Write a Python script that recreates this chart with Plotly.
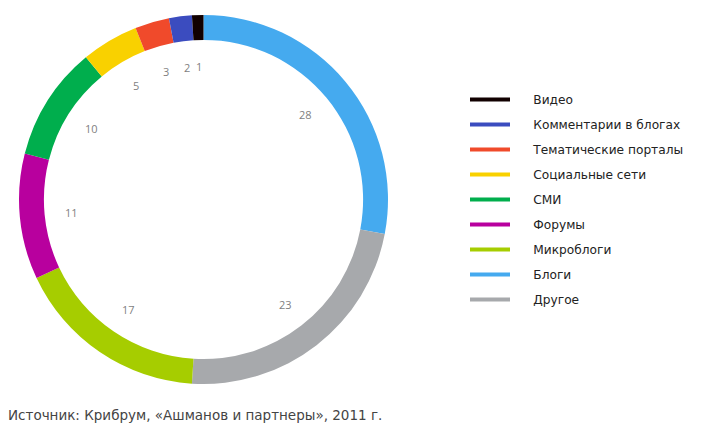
import numpy as np
import plotly.graph_objects as go

# Data (clockwise from top)
categories = ["Блоги", "Другое", "Микроблоги", "Форумы", "СМИ", "Социальные сети",
              "Тематические порталы", "Комментарии в блогах", "Видео"]
values = [28, 23, 17, 11, 10, 5, 3, 2, 1]
colors = ["#45aaef", "#a7a9ac", "#a6cd00", "#b8009e", "#00ae4d", "#f9d100",
          "#f04a2b", "#3b4cbf", "#110000"]
legend_order = ["Видео", "Комментарии в блогах", "Тематические порталы", "Социальные сети",
                "СМИ", "Форумы", "Микроблоги", "Блоги", "Другое"]
source_text = "Источник: Крибрум, «Ашманов и партнеры», 2011 г."

W, H = 714, 431
cx, cy, R = 203.5, 199.5, 184.5
label_r = 133

fig = go.Figure()
fig.add_trace(go.Pie(
    labels=categories, values=values, sort=False, direction="clockwise", rotation=0,
    hole=0.865, marker=dict(colors=colors, line=dict(width=0)),
    textinfo="none", hoverinfo="label+value", showlegend=False,
    domain=dict(x=[(cx - R) / W, (cx + R) / W], y=[1 - (cy + R) / H, 1 - (cy - R) / H]),
))

# value labels inside the ring
vals = np.array(values, dtype=float)
cum = np.cumsum(vals) - vals / 2
theta = cum / vals.sum() * 2 * np.pi
for v, t in zip(values, theta):
    px = cx + label_r * np.sin(t)
    py = cy - label_r * np.cos(t)
    fig.add_annotation(x=px / W, y=1 - py / H, xref="paper", yref="paper",
                       xanchor="center", yanchor="middle",
                       text=str(v), showarrow=False,
                       font=dict(family="Open Sans", size=11, color="#7f7f7f"))

# legend entries as lines
cmap = dict(zip(categories, colors))
for i, name in enumerate(legend_order):
    fig.add_trace(go.Scatter(x=[None], y=[None], mode="lines",
                             name="\u2003\u2002" + name,
                             line=dict(color=cmap[name], width=4),
                             legendgroup=str(i), showlegend=True))

fig.add_annotation(x=6 / W, y=1 - 415 / H, xref="paper", yref="paper",
                   xanchor="left", yanchor="middle",
                   text=source_text, showarrow=False,
                   font=dict(family="DejaVu Sans", size=13.5, color="#444444"))

fig.update_layout(
    width=W, height=H, margin=dict(l=0, r=0, t=0, b=0),
    paper_bgcolor="white", plot_bgcolor="white",
    xaxis=dict(visible=False), yaxis=dict(visible=False),
    legend=dict(x=465 / W, y=1 - 85 / H, xanchor="left", yanchor="top",
                font=dict(family="DejaVu Sans", size=12.2, color="#222222"),
                tracegroupgap=6, itemwidth=40, bgcolor="rgba(0,0,0,0)"),
)
fig.write_html("out.html", config={"displayModeBar": False},
               post_script="document.body.style.margin='0';")
